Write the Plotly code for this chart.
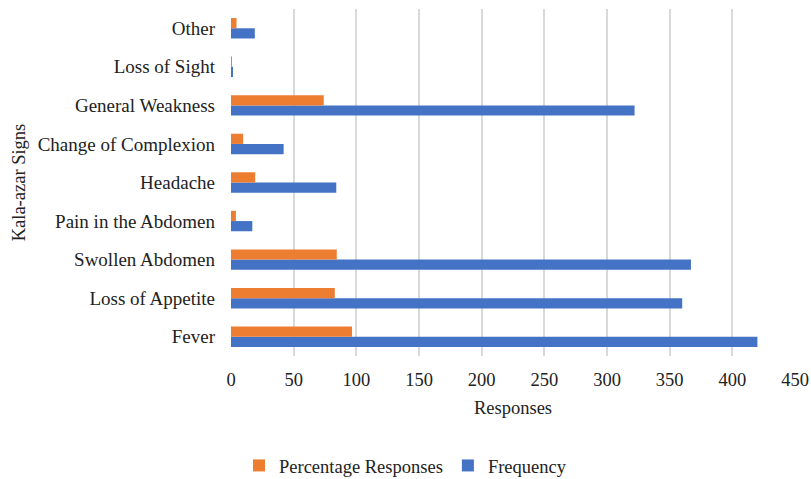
import plotly.graph_objects as go

# Kala-azar signs reported by respondents
signs = ["Fever", "Loss of Appetite", "Swollen Abdomen", "Pain in the Abdomen",
         "Headache", "Change of Complexion", "General Weakness", "Loss of Sight", "Other"]
frequency = [420, 360, 367, 17, 84, 42, 322, 1, 19]
percentage = [96.6, 82.8, 84.4, 3.9, 19.3, 9.7, 74.0, 0.2, 4.4]
x_ticks = [0, 50, 100, 150, 200, 250, 300, 350, 400, 450]

BLUE = "#4472C4"
ORANGE = "#ED7D31"
FONT = "Liberation Serif"
FS = 18.5

fig = go.Figure()
fig.add_trace(go.Bar(y=signs, x=frequency, orientation="h", name="Frequency",
                     marker=dict(color=BLUE, line=dict(width=0))))
fig.add_trace(go.Bar(y=signs, x=percentage, orientation="h", name="Percentage Responses",
                     marker=dict(color=ORANGE, line=dict(width=0))))

fig.update_layout(
    width=811, height=479,
    barmode="group", bargap=0.47, bargroupgap=0,
    plot_bgcolor="white", paper_bgcolor="white",
    margin=dict(l=231, r=16, t=9, b=123, autoexpand=False),
    font=dict(family=FONT, size=FS, color="#222222"),
    xaxis=dict(range=[0, 450], tickvals=x_ticks, showgrid=True, gridcolor="#D9D9D9",
               gridwidth=1.5, zeroline=False, showline=False, ticks="", automargin=False,
               ticklabelstandoff=10, tickfont=dict(size=FS),
               title=dict(text="Responses", font=dict(size=FS), standoff=12)),
    yaxis=dict(showgrid=False, zeroline=False, showline=False, ticks="", ticklabelstandoff=15,
               tickfont=dict(size=19), automargin=False,
               title=dict(text="Kala-azar Signs", font=dict(size=FS), standoff=7)),
    legend=dict(orientation="h", x=0.5, xanchor="center", xref="container", y=0.067,
                yanchor="top", yref="container", traceorder="reversed",
                font=dict(size=FS), itemwidth=30),
    showlegend=True,
)

fig.write_html("out.html")
